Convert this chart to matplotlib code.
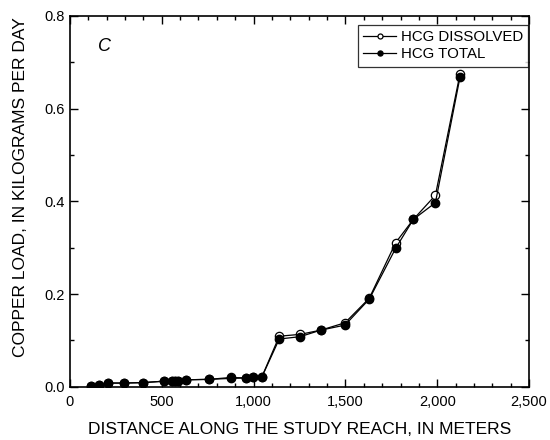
import matplotlib
matplotlib.use("Agg")
import matplotlib.pyplot as plt
from matplotlib.ticker import MultipleLocator, FuncFormatter

plt.rcParams['font.family'] = ['Liberation Sans', 'DejaVu Sans']

# distance along reach (m) and copper loads (kg/day)
distance = [113, 160, 209, 296, 399, 512, 554, 572, 590, 635, 759, 875, 957, 999, 1044,
            1140, 1253, 1365, 1498, 1630, 1774, 1870, 1990, 2124]
dissolved = [0.002, 0.003, 0.008, 0.008, 0.009, 0.012, 0.012, 0.012, 0.013, 0.015, 0.016, 0.020,
             0.019, 0.020, 0.020, 0.109, 0.113, 0.122, 0.138, 0.191, 0.311, 0.361, 0.413, 0.675]
total = [0.002, 0.003, 0.008, 0.008, 0.009, 0.012, 0.012, 0.012, 0.013, 0.015, 0.016, 0.018,
         0.019, 0.020, 0.020, 0.103, 0.108, 0.122, 0.133, 0.189, 0.299, 0.361, 0.397, 0.668]

fig = plt.figure(figsize=(5.5, 4.4), dpi=100)
ax = fig.add_axes([0.127, 0.121, 0.835, 0.843])

ax.plot(distance, dissolved, '-o', color='black', lw=0.9, ms=6,
        mfc='white', mec='black', mew=0.9, label='HCG DISSOLVED')
ax.plot(distance, total, '-o', color='black', lw=0.9, ms=6,
        mfc='black', mec='black', label='HCG TOTAL')

ax.set_xlim(0, 2500)
ax.set_ylim(0, 0.8)
ax.xaxis.set_major_locator(MultipleLocator(500))
ax.xaxis.set_minor_locator(MultipleLocator(100))
ax.yaxis.set_major_locator(MultipleLocator(0.2))
ax.yaxis.set_minor_locator(MultipleLocator(0.1))
ax.xaxis.set_major_formatter(FuncFormatter(lambda v, p: f"{int(v):,}"))
ax.yaxis.set_major_formatter(FuncFormatter(lambda v, p: f"{v:.1f}"))

ax.tick_params(which='both', direction='in', top=True, right=True, labelsize=10.5, width=1)
ax.tick_params(which='major', length=6)
ax.tick_params(which='minor', length=3)
ax.tick_params(axis='x', which='major', pad=6)
for s in ax.spines.values():
    s.set_linewidth(1.2)

ax.set_xlabel('DISTANCE ALONG THE STUDY REACH, IN METERS', fontsize=12.5, labelpad=9)
ax.set_ylabel('COPPER LOAD, IN KILOGRAMS PER DAY', fontsize=12.5)
# y label sits a little above the axis centre
ax.yaxis.set_label_coords(-0.092, 0.539)

ax.text(0.062, 0.905, 'C', transform=ax.transAxes, fontsize=13, style='italic')

leg = ax.legend(loc='upper right', fontsize=10.8, frameon=True, fancybox=False,
                edgecolor='black', handlelength=2.2, handletextpad=0.3,
                borderpad=0.35, labelspacing=0.22, markerscale=0.6,
                bbox_to_anchor=(0.998, 0.976), borderaxespad=0)
leg.get_frame().set_linewidth(0.9)

fig.savefig('out.png', dpi=100)
